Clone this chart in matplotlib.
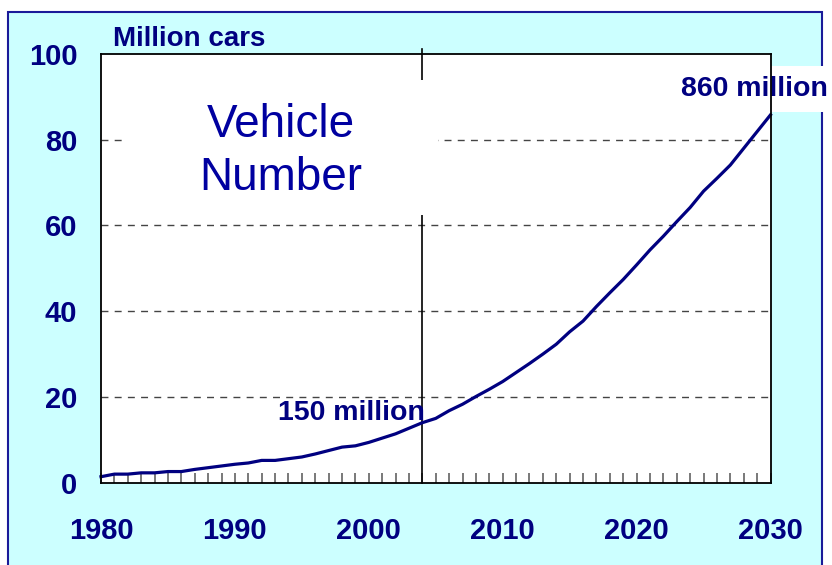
import matplotlib.pyplot as plt
from matplotlib.patches import Rectangle

# Vehicle number (million cars)
years = list(range(1980, 2031))
vehicles = [
    1.4, 2.0, 2.0, 2.3, 2.3, 2.6, 2.6, 3.1, 3.5, 3.9,
    4.3, 4.6, 5.2, 5.2, 5.6, 6.0, 6.7, 7.5, 8.3, 8.6,
    9.4, 10.4, 11.4, 12.7, 14.0, 15.0, 16.8, 18.3, 20.1, 21.8,
    23.6, 25.7, 27.8, 30.0, 32.3, 35.2, 37.7, 41.1, 44.3, 47.4,
    50.8, 54.3, 57.5, 60.9, 64.2, 68.0, 71.0, 74.1, 78.0, 81.9,
    85.8,
]
x_ticks = [1980, 1990, 2000, 2010, 2020, 2030]
y_ticks = [0, 20, 40, 60, 80, 100]
grid_values = [20, 40, 60, 80]
marker_year = 2004

NAVY = "#000080"
CYAN = "#CCFFFF"

plt.rcParams["font.family"] = ["Liberation Sans", "DejaVu Sans"]

fig = plt.figure(figsize=(8.32, 5.65), dpi=100, facecolor="white")
W, H = 832, 565

# cyan panel with dark blue border (drawn under the axes)
fig.patches.append(Rectangle((8 / W, -0.02), (822 - 8) / W, 1 - 12 / H + 0.02,
                             transform=fig.transFigure, facecolor=CYAN,
                             edgecolor="#1a1a99", lw=1.5, zorder=-5))

ax = fig.add_axes([101 / W, (H - 482.7) / H, 669.5 / W, 428.7 / H])
ax.set_zorder(1)
ax.set_facecolor("white")
ax.set_xlim(1980, 2030)
ax.set_ylim(0, 100)

for v in grid_values:
    ax.axhline(v, color="#444444", lw=1.0, ls=(0, (5, 4.5)), zorder=1)

# vertical marker line, poking above the frame
ax.plot([marker_year, marker_year], [0, 101.2], color="black", lw=1.2,
        clip_on=False, zorder=2)

# white box behind the title text
ax.add_patch(Rectangle((1981.6, 62.4), 2005.2 - 1981.6, 93.9 - 62.4,
                       facecolor="white", edgecolor="none", zorder=3))
ax.text(1993.45, 77.3, "Vehicle\nNumber", ha="center", va="center",
        fontsize=33, color="#0000A0", linespacing=1.25, zorder=4)

ax.plot(years, vehicles, color=NAVY, lw=2.3, zorder=5, clip_on=False)

ax.text(1998.7, 16.3, "150 million", ha="center", va="center",
        fontsize=20.5, fontweight="bold", color=NAVY, zorder=6)
ax.text(2028.77, 91.8, "860 million", ha="center", va="center",
        fontsize=20.5, fontweight="bold", color=NAVY, zorder=6, clip_on=False,
        bbox=dict(boxstyle="square,pad=0.35", facecolor="white", edgecolor="none"))

ax.set_xticks(x_ticks)
ax.set_xticks(years, minor=True)
ax.set_yticks(y_ticks)
ax.tick_params(axis="x", which="both", direction="in", length=7, width=1.1,
               color="#555555", pad=25)
ax.tick_params(axis="x", which="major", labelsize=21, labelcolor=NAVY)
ax.tick_params(axis="y", which="major", length=0, pad=17, labelsize=21,
               labelcolor=NAVY)
for lab in ax.get_xticklabels() + ax.get_yticklabels():
    lab.set_fontweight("bold")

for sp in ax.spines.values():
    sp.set_color("black")
    sp.set_linewidth(1.3)
    sp.set_zorder(7)

fig.text(113 / W, 1 - 46 / H, "Million cars", ha="left", va="baseline",
         fontsize=20, fontweight="bold", color=NAVY)

fig.savefig("out.png", dpi=100, facecolor="white")
